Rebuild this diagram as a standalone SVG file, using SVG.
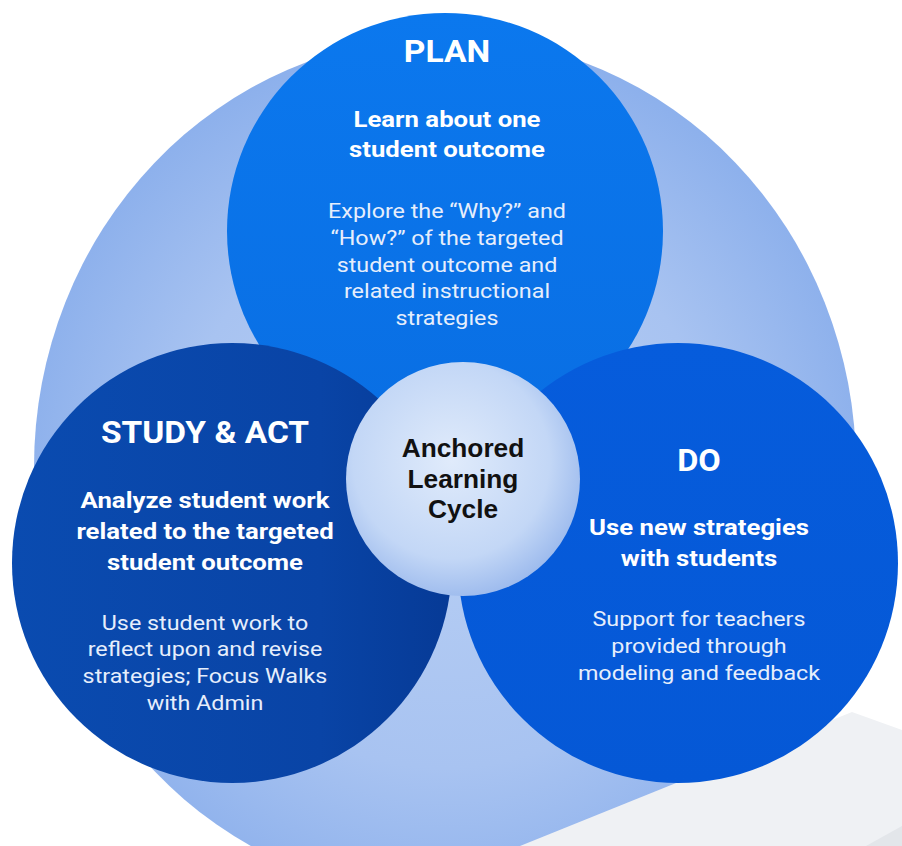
<svg xmlns="http://www.w3.org/2000/svg" width="902" height="846" viewBox="0 0 902 846">
  <defs>
    <radialGradient id="gBig" cx="50%" cy="52%" r="55%">
      <stop offset="0" stop-color="#b8cff4"/>
      <stop offset="0.6" stop-color="#a8c3f1"/>
      <stop offset="1" stop-color="#88adeb"/>
    </radialGradient>
    <linearGradient id="gPlan" x1="0" y1="0" x2="0" y2="1">
      <stop offset="0" stop-color="#0b78ee"/>
      <stop offset="1" stop-color="#096ee3"/>
    </linearGradient>
    <linearGradient id="gStudy" x1="0" y1="0" x2="1" y2="0">
      <stop offset="0" stop-color="#0a4bb0"/>
      <stop offset="0.7" stop-color="#0944a6"/>
      <stop offset="1" stop-color="#063a96"/>
    </linearGradient>
    <linearGradient id="gDo" x1="0" y1="0" x2="0" y2="1">
      <stop offset="0" stop-color="#065cdc"/>
      <stop offset="1" stop-color="#0558d6"/>
    </linearGradient>
    <radialGradient id="gCenter" cx="45%" cy="42%" r="60%">
      <stop offset="0" stop-color="#e0ebfb"/>
      <stop offset="0.7" stop-color="#c3d7f6"/>
      <stop offset="1" stop-color="#9cbaed"/>
    </radialGradient>
  </defs>
  <style>
    .t { font-family: Roboto, "Liberation Sans", sans-serif; fill: #ffffff; text-anchor: middle; }
    .title { font-weight: bold; }
    .head { font-weight: bold; font-size: 22px; }
    .body { font-size: 21px; fill: #e6eefc; }
    .ctr { font-family: "Liberation Sans", Arial, sans-serif; font-weight: bold; font-size: 25px; fill: #111111; text-anchor: middle; }
  </style>
  <rect width="902" height="846" fill="#ffffff"/>
  <g id="background">
    <ellipse cx="445" cy="467" rx="411" ry="430" fill="url(#gBig)"/>
    <polygon points="852,712 902,730 902,846 520,846" fill="#eff1f4"/>
    <polygon points="866,846 902,826 902,846" fill="#e3e6ea"/>
  </g>
  <g id="plan">
    <circle cx="445" cy="231" r="218" fill="url(#gPlan)"/>
    <g transform="translate(447 0)">
      <g transform="scale(1.05 1)"><text class="t title" x="0" y="62" font-size="32">PLAN</text></g>
      <g transform="scale(1.17 1)">
        <text class="t head" x="0" y="127">Learn about one</text>
        <text class="t head" x="0" y="157">student outcome</text>
      </g>
      <g transform="scale(1.11 1)">
        <text class="t body" x="0" y="218">Explore the “Why?” and</text>
        <text class="t body" x="0" y="245">“How?” of the targeted</text>
        <text class="t body" x="0" y="272">student outcome and</text>
        <text class="t body" x="0" y="298">related instructional</text>
        <text class="t body" x="0" y="325">strategies</text>
      </g>
    </g>
  </g>
  <g id="do">
    <circle cx="678" cy="563" r="220" fill="url(#gDo)"/>
    <g transform="translate(699 0)">
      <g transform="scale(1.05 1)"><text class="t title" x="0" y="471" font-size="31">DO</text></g>
      <g transform="scale(1.17 1)">
        <text class="t head" x="0" y="535">Use new strategies</text>
        <text class="t head" x="0" y="566">with students</text>
      </g>
      <g transform="scale(1.11 1)">
        <text class="t body" x="0" y="626">Support for teachers</text>
        <text class="t body" x="0" y="653">provided through</text>
        <text class="t body" x="0" y="680">modeling and feedback</text>
      </g>
    </g>
  </g>
  <g id="study-act">
    <circle cx="232" cy="563" r="220" fill="url(#gStudy)"/>
    <g transform="translate(205 0)">
      <g transform="scale(1.08 1)"><text class="t title" x="0" y="443" font-size="31">STUDY &amp; ACT</text></g>
      <g transform="scale(1.17 1)">
        <text class="t head" x="0" y="508">Analyze student work</text>
        <text class="t head" x="0" y="539">related to the targeted</text>
        <text class="t head" x="0" y="570">student outcome</text>
      </g>
      <g transform="scale(1.11 1)">
        <text class="t body" x="0" y="630">Use student work to</text>
        <text class="t body" x="0" y="656">reflect upon and revise</text>
        <text class="t body" x="0" y="683">strategies; Focus Walks</text>
        <text class="t body" x="0" y="710">with Admin</text>
      </g>
    </g>
  </g>
  <g id="center">
    <circle cx="463" cy="479" r="117" fill="url(#gCenter)"/>
    <g transform="translate(463 0) scale(1.05 1)">
      <text class="ctr" x="0" y="457">Anchored</text>
      <text class="ctr" x="0" y="488">Learning</text>
      <text class="ctr" x="0" y="518">Cycle</text>
    </g>
  </g>
  <g id="connectors"/>
</svg>
